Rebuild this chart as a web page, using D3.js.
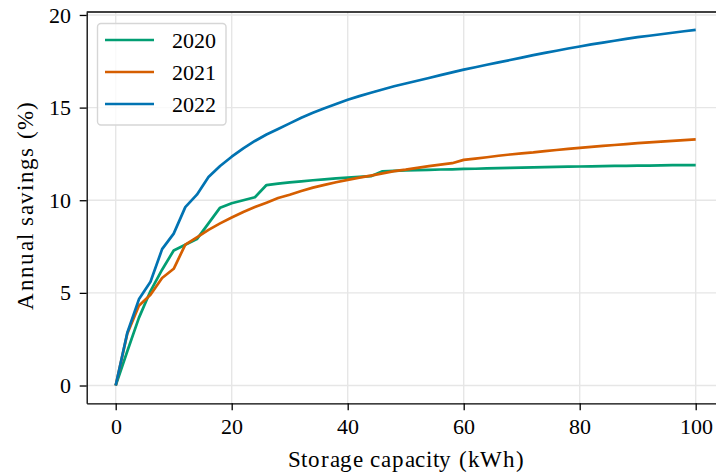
<!DOCTYPE html>
<html>
<head>
<meta charset="UTF-8">
<script src="https://d3js.org/d3.v7.min.js"></script>
<style>
  @font-face {
    font-family: "ChartSerif";
    src: local("Liberation Serif"), local("LiberationSerif"), local("LiberationSerif-Regular");
  }
</style>
</head>
<body style="margin:0; background:#fff; overflow:hidden">
<script>
  // storage capacity (kWh), every 2 kWh
  const capacity = [0, 2, 4, 6, 8, 10, 12, 14, 16, 18, 20, 22, 24, 26, 28, 30, 32, 34, 36, 38, 40,
    42, 44, 46, 48, 50, 52, 54, 56, 58, 60, 62, 64, 66, 68, 70, 72, 74, 76, 78, 80,
    82, 84, 86, 88, 90, 92, 94, 96, 98, 100];

  const savings2020 = [0, 1.85, 3.65, 5.1, 6.25, 7.29, 7.6, 7.9, 8.75, 9.6, 9.84, 10.0, 10.16, 10.82, 10.9, 10.96, 11.02, 11.08, 11.13, 11.18, 11.22,
    11.26, 11.3, 11.56, 11.59, 11.61, 11.63, 11.64, 11.66, 11.67, 11.69, 11.7, 11.72, 11.73, 11.75, 11.76, 11.77, 11.79, 11.8, 11.81, 11.82,
    11.83, 11.84, 11.85, 11.86, 11.87, 11.87, 11.88, 11.89, 11.9, 11.9];

  const savings2021 = [0, 2.8, 4.3, 4.9, 5.8, 6.3, 7.6, 8.0, 8.4, 8.75, 9.07, 9.37, 9.63, 9.87, 10.12, 10.3, 10.5, 10.68, 10.83, 10.97, 11.1,
    11.22, 11.33, 11.45, 11.57, 11.65, 11.75, 11.84, 11.92, 12.0, 12.18, 12.25, 12.32, 12.4, 12.47, 12.53, 12.58, 12.65, 12.71, 12.77, 12.83,
    12.88, 12.93, 12.98, 13.03, 13.08, 13.12, 13.16, 13.2, 13.24, 13.28];

  const savings2022 = [0, 2.85, 4.65, 5.6, 7.36, 8.2, 9.63, 10.3, 11.25, 11.85, 12.35, 12.8, 13.2, 13.55, 13.85, 14.15, 14.45, 14.72, 14.97, 15.2, 15.42,
    15.62, 15.8, 15.98, 16.15, 16.3, 16.45, 16.6, 16.75, 16.9, 17.05, 17.18, 17.31, 17.44, 17.57, 17.7, 17.83, 17.95, 18.07, 18.19, 18.3,
    18.41, 18.51, 18.61, 18.71, 18.8, 18.88, 18.96, 19.04, 19.12, 19.2];

  const seriesNames = ['2020', '2021', '2022'];
  const seriesColors = ['#029e73', '#d55e00', '#0173b2'];
  const xTicks = [0, 20, 40, 60, 80, 100];
  const yTicks = [0, 5, 10, 15, 20];

  const FONT = '"ChartSerif", "Liberation Serif"';

  const series = [savings2020, savings2021, savings2022].map((vals, i) => ({
    name: seriesNames[i],
    color: seriesColors[i],
    points: capacity.map((c, j) => [c, vals[j]])
  }));

  const width = 716, height = 476;
  const margin = {top: 12, left: 86.7};
  const plotW = 638, plotH = 391.3;

  const svg = d3.select('body').append('svg')
    .attr('width', width).attr('height', height)
    .attr('font-family', 'Liberation Serif')
    .style('display', 'block');

  // matplotlib-style 5% margins around the data
  const xScale = d3.scaleLinear().domain([-5, 105]).range([0, plotW]);
  const yScale = d3.scaleLinear().domain([-0.96, 20.16]).range([plotH, 0]);

  const g = svg.append('g').attr('transform', `translate(${margin.left},${margin.top})`);

  // grid
  const grid = g.append('g').attr('stroke', '#e6e6e6').attr('stroke-width', 1.4);
  grid.selectAll('.gx').data(xTicks).join('line')
    .attr('class', 'gx')
    .attr('x1', d => xScale(d)).attr('x2', d => xScale(d))
    .attr('y1', 0).attr('y2', plotH);
  grid.selectAll('.gy').data(yTicks).join('line')
    .attr('class', 'gy')
    .attr('x1', 0).attr('x2', plotW)
    .attr('y1', d => yScale(d)).attr('y2', d => yScale(d));

  const line = d3.line()
    .x(d => xScale(d[0]))
    .y(d => yScale(d[1]));

  g.selectAll('.series').data(series).join('path')
    .attr('class', 'series')
    .attr('fill', 'none')
    .attr('stroke', d => d.color)
    .attr('stroke-width', 2.7)
    .attr('stroke-linejoin', 'round')
    .attr('d', d => line(d.points));

  // axes
  const xAxis = g.append('g')
    .attr('transform', `translate(0,${plotH})`)
    .call(d3.axisBottom(xScale).tickValues(xTicks).tickSize(7).tickPadding(8).tickSizeOuter(0));
  xAxis.attr('font-family', null).attr('font-size', 22);
  xAxis.selectAll('path, line').attr('stroke', '#000').attr('stroke-width', 1.3);
  xAxis.selectAll('text').style('font-family', FONT).style('font-size', '22px').attr('fill', '#000');

  const yAxis = g.append('g')
    .call(d3.axisLeft(yScale).tickValues(yTicks).tickSize(7).tickPadding(9).tickSizeOuter(0));
  yAxis.attr('font-family', null).attr('font-size', 22);
  yAxis.selectAll('path, line').attr('stroke', '#000').attr('stroke-width', 1.3);
  yAxis.selectAll('text').style('font-family', FONT).style('font-size', '22px').attr('fill', '#000');

  // top and right spines
  g.append('line')
    .attr('x1', 0).attr('x2', plotW).attr('y1', 0).attr('y2', 0)
    .attr('stroke', '#000').attr('stroke-width', 1.3);
  g.append('line')
    .attr('x1', plotW).attr('x2', plotW).attr('y1', 0).attr('y2', plotH)
    .attr('stroke', '#000').attr('stroke-width', 1.3);

  // axis labels
  svg.append('text')
    .attr('x', margin.left + xScale(50))
    .attr('y', 467)
    .attr('text-anchor', 'middle')
    .attr('textLength', 236)
    .attr('lengthAdjust', 'spacing')
    .style('font-family', FONT)
    .style('font-size', '23px')
    .text('Storage capacity (kWh)');

  svg.append('text')
    .attr('transform', `translate(33,${margin.top + plotH / 2 - 2}) rotate(-90)`)
    .attr('text-anchor', 'middle')
    .attr('textLength', 208)
    .attr('lengthAdjust', 'spacing')
    .style('font-family', FONT)
    .style('font-size', '23px')
    .text('Annual savings (%)');

  // legend
  const legend = svg.append('g').attr('transform', 'translate(97.5,23.5)');
  legend.append('rect')
    .attr('width', 128.5).attr('height', 101.5)
    .attr('rx', 3.5)
    .attr('fill', 'rgba(255,255,255,0.8)')
    .attr('stroke', '#d6d6d6')
    .attr('stroke-width', 1.4);
  const items = legend.selectAll('.item').data(series).join('g')
    .attr('class', 'item')
    .attr('transform', (d, i) => `translate(0,${16.5 + i * 32})`);
  items.append('line')
    .attr('x1', 7.5).attr('x2', 56.5)
    .attr('stroke', d => d.color)
    .attr('stroke-width', 2.7);
  items.append('text')
    .attr('x', 74)
    .attr('y', 7.5)
    .style('font-family', FONT)
    .style('font-size', '22px')
    .text(d => d.name);
</script>
</body>
</html>
